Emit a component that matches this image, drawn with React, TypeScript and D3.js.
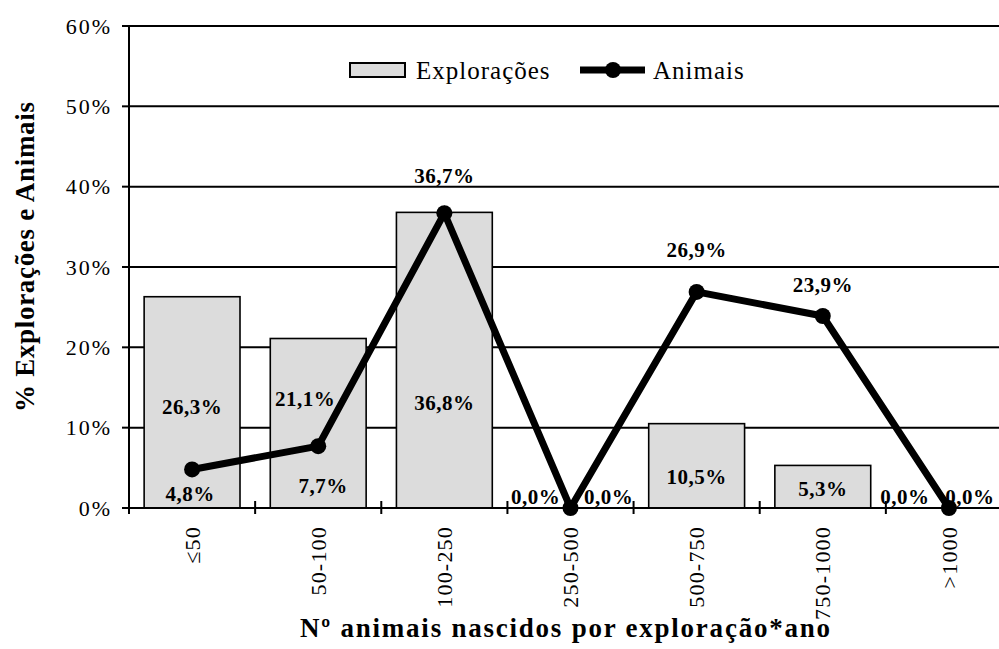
import React from "react";
import * as d3 from "d3";

const categories = ["≤50", "50-100", "100-250", "250-500", "500-750", "750-1000", ">1000"];
const exploracoes = [26.3, 21.1, 36.8, 0.0, 10.5, 5.3, 0.0];
const animais = [4.8, 7.7, 36.7, 0.0, 26.9, 23.9, 0.0];
const yTicks = [0, 10, 20, 30, 40, 50, 60];

// manual label nudges (dx, dy) as in the reference
const barLabelNudge: [number, number][] = [
  [0, 4], [-13, -25], [0, 42], [-35, -11], [0, 11], [0, 2], [-44, -11],
];
const lineLabelNudge: [number, number][] = [
  [-2, 24], [5, 40], [0, -38], [38, -11], [0, -42], [0, -31], [21, -11],
];

const W = 999;
const H = 649;
const left = 129;
const right = 1012;
const top = 26;
const bottom = 508;

const fmt = (v: number) => v.toFixed(1).replace(".", ",") + "%";

export default function App() {
  const x = d3
    .scaleBand<string>()
    .domain(categories)
    .range([left, right])
    .paddingInner(0.24)
    .paddingOuter(0.12);
  const step = (right - left) / categories.length;
  const y = d3.scaleLinear().domain([0, 60]).range([bottom, top]);
  const cx = (c: string) => (x(c) as number) + x.bandwidth() / 2;

  const line = d3
    .line<number>()
    .x((_, i) => cx(categories[i]))
    .y((d) => y(d));

  const serif = "'Liberation Serif', 'Times New Roman', serif";

  return (
    <svg
      width={W}
      height={H}
      style={{ position: "absolute", left: 0, top: 0, background: "#fff" }}
      fontFamily={serif}
    >
      <rect x={0} y={0} width={W} height={H} fill="#fff" />
      {/* gridlines */}
      {yTicks.slice(1).map((t) => (
        <line key={t} x1={left} x2={right} y1={y(t)} y2={y(t)} stroke="#000" strokeWidth={2} />
      ))}
      {/* bars */}
      {exploracoes.map((v, i) => (
        <rect
          key={i}
          x={x(categories[i])}
          y={y(v)}
          width={x.bandwidth()}
          height={bottom - y(v)}
          fill="#dcdcdc"
          stroke="#000"
          strokeWidth={1.6}
        />
      ))}
      {/* axes */}
      <line x1={left} x2={left} y1={top - 1} y2={bottom} stroke="#000" strokeWidth={2} />
      <line x1={left - 6} x2={right} y1={bottom} y2={bottom} stroke="#000" strokeWidth={2} />
      {yTicks.map((t) => (
        <g key={t}>
          <line x1={left - 7} x2={left} y1={y(t)} y2={y(t)} stroke="#000" strokeWidth={2} />
          <text
            x={112}
            y={y(t)}
            dy="0.35em"
            textAnchor="end"
            fontSize={22}
            letterSpacing={2}
          >
            {t}%
          </text>
        </g>
      ))}
      {d3.range(categories.length + 1).map((i) => (
        <line
          key={i}
          x1={left + i * step}
          x2={left + i * step}
          y1={bottom - 7}
          y2={bottom + 6}
          stroke="#000"
          strokeWidth={2}
        />
      ))}
      {categories.map((c) => (
        <text
          key={c}
          transform={`translate(${cx(c)},${526}) rotate(-90)`}
          dy="0.35em"
          textAnchor="end"
          fontSize={22}
          letterSpacing={1.2}
        >
          {c}
        </text>
      ))}
      {/* line series */}
      <path d={line(animais) || ""} fill="none" stroke="#000" strokeWidth={7} strokeLinejoin="miter" />
      {animais.map((v, i) => (
        <circle key={i} cx={cx(categories[i])} cy={y(v)} r={8} fill="#000" />
      ))}
      {/* bar labels */}
      {exploracoes.map((v, i) => (
        <text
          key={"b" + i}
          x={cx(categories[i]) + barLabelNudge[i][0]}
          y={(y(v) + bottom) / 2 + barLabelNudge[i][1]}
          dy="0.35em"
          textAnchor="middle"
          fontSize={21}
          fontWeight="bold"
          letterSpacing={0.5}
        >
          {fmt(v)}
        </text>
      ))}
      {/* line labels */}
      {animais.map((v, i) => (
        <text
          key={"l" + i}
          x={cx(categories[i]) + lineLabelNudge[i][0]}
          y={y(v) + lineLabelNudge[i][1]}
          dy="0.35em"
          textAnchor="middle"
          fontSize={21}
          fontWeight="bold"
          letterSpacing={0.5}
        >
          {fmt(v)}
        </text>
      ))}
      {/* legend */}
      <rect x={350} y={63} width={55} height={14} fill="#dcdcdc" stroke="#000" strokeWidth={2} />
      <text x={416} y={70} dy="0.35em" fontSize={25} letterSpacing={1}>
        Explorações
      </text>
      <line x1={580} x2={645} y1={70} y2={70} stroke="#000" strokeWidth={7} />
      <circle cx={613} cy={70} r={8} fill="#000" />
      <text x={653} y={70} dy="0.35em" fontSize={25} letterSpacing={1}>
        Animais
      </text>
      {/* axis titles */}
      <text
        x={565}
        y={637}
        textAnchor="middle"
        fontSize={27}
        fontWeight="bold"
        textLength={530}
        lengthAdjust="spacing"
      >
        Nº animais nascidos por exploração*ano
      </text>
      <text
        transform={`translate(34,${257}) rotate(-90)`}
        textAnchor="middle"
        fontSize={27}
        fontWeight="bold"
        textLength={310}
        lengthAdjust="spacing"
      >
        % Explorações  e Animais
      </text>
    </svg>
  );
}
